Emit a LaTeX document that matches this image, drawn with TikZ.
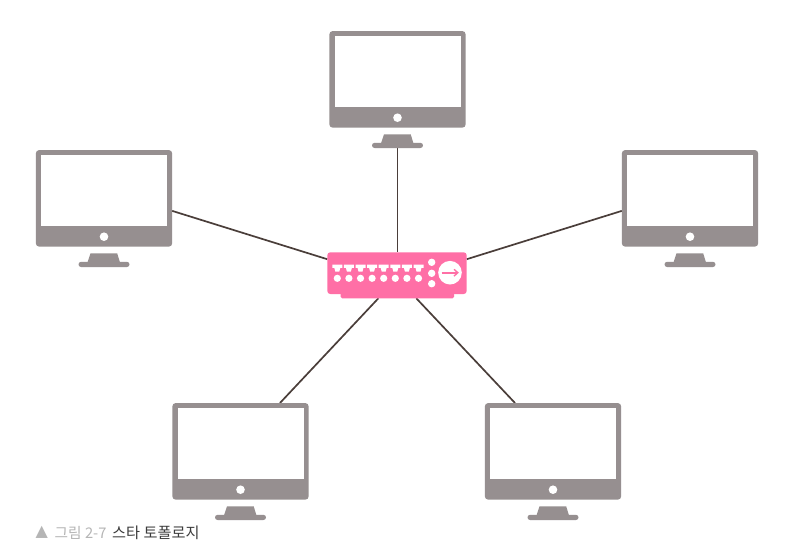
\documentclass[tikz,border=0pt]{standalone}
\usepackage{fontspec}
\newfontfamily\krfont{Noto Sans CJK KR}
\newfontfamily\symfont{DejaVu Sans}
\definecolor{mongray}{HTML}{968F90}
\definecolor{swpink}{HTML}{FF6FA6}
\definecolor{wire}{HTML}{4A3E3A}
\definecolor{capgray}{HTML}{B5B5B5}
\definecolor{captext}{HTML}{3C3C3C}
\tikzset{
  x=1pt,y=-1pt,
  monbox/.style={rectangle,minimum width=136.4pt,minimum height=117pt,inner sep=0pt,outer sep=0pt},
  swbox/.style={rectangle,minimum width=139.4pt,minimum height=46pt,inner sep=0pt,outer sep=0pt},
  wireline/.style={draw=wire,line width=1.7pt},
  pics/monitor/.style={code={
    % all offsets relative to the centre of the 136.4 x 117 box
    \fill[mongray,rounded corners=3.5pt] (-68.2,-58.5) rectangle (68.2,38.2);
    \fill[white] (-62.8,-53.2) rectangle (63.2,17.8);
    \fill[white] (0,28.2) circle (4.3);
    \fill[mongray] (-13.5,44.8) -- (13.2,44.8) -- (16,54) -- (-16.5,54) -- cycle;
    \fill[mongray,rounded corners=2.6pt] (-25.5,53.3) rectangle (25.5,58.5);
  }},
}
\begin{document}
\begin{tikzpicture}
\useasboundingbox (0,0) rectangle (804,558);
\fill[white] (0,0) rectangle (804,558);
\node[monbox] (m1) at (397.5,89.5) {};
\node[monbox] (m2) at (104,208.5) {};
\node[monbox] (m3) at (690,208.5) {};
\node[monbox] (m4) at (240.5,461.5) {};
\node[monbox] (m5) at (553,461.5) {};
\node[swbox] (sw) at (397,275.3) {};
\draw[wireline] (m1.south) -- (sw.north -| m1.south);
\draw[wireline] (m2.-2) -- (sw.167);
\draw[wireline] (m3.182) -- (sw.13);
\draw[wireline] (m4.56.6) -- (sw.231);
\draw[wireline] (m5.123.4) -- (sw.-50);
\foreach \n in {m1,m2,m3,m4,m5}{ \pic at (\n.center) {monitor}; }
% switch
\fill[swpink,rounded corners=3pt] (327.3,252.3) rectangle (466.7,294);
\fill[swpink,rounded corners=1.5pt] (340.7,285) rectangle (454,298.3);
\foreach \i in {0,...,7}{
  \pgfmathsetmacro{\px}{337.3+11.6*\i}
  \fill[white] (\px-5,264.6) -- (\px+5,264.6) -- (\px+5,267.8) -- (\px+3,267.8) -- (\px+2,271.5) -- (\px-2,271.5) -- (\px-3,267.8) -- (\px-5,267.8) -- cycle;
  \fill[white] (\px,278.3) circle (3.6);
}
\fill[white] (431.7,262.3) circle (3.7);
\fill[white] (431.7,273.3) circle (3.7);
\fill[white] (431.7,283.7) circle (3.7);
\fill[white] (450,272.7) circle (11.8);
\draw[swpink,line width=1.8pt] (441.5,272.7) -- (457,272.7);
\draw[swpink,line width=1.4pt] (454,269.3) -- (457.8,272.7) -- (454,276.1);
% caption
\node[anchor=west,inner sep=0pt,font=\symfont\fontsize{16}{18}\selectfont,text=capgray] (captri) at (35.5,532.5) {▲};
\node[anchor=west,inner sep=0pt,font=\krfont\fontsize{14.7}{17}\selectfont,text=capgray] (capa) at (54.5,532.5) {그림 2-7};
\node[anchor=west,inner sep=0pt,font=\krfont\fontsize{15.2}{17}\selectfont,text=captext] (capb) at (112,532.5) {스타 토폴로지};
\end{tikzpicture}
\end{document}
